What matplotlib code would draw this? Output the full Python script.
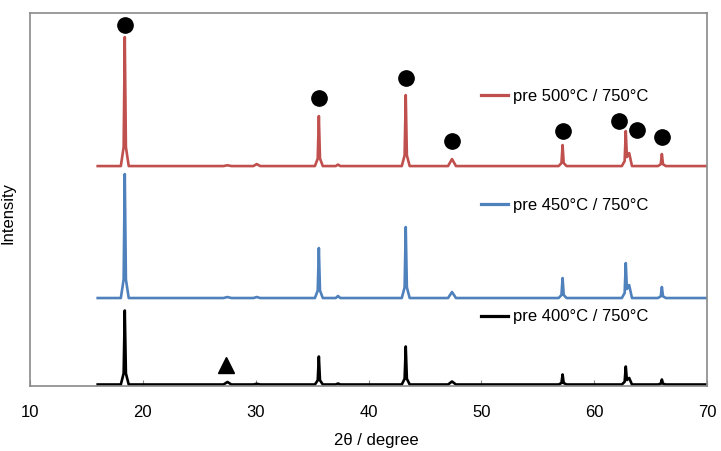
import matplotlib
matplotlib.use("Agg")
import matplotlib.pyplot as plt

plt.rcParams['font.family'] = ['Liberation Sans', 'DejaVu Sans']

# 2theta grid shared by the three patterns
two_theta = [16, 18.05, 18.3, 18.4, 18.5, 18.75,
             27.15, 27.5, 27.85,
             29.8, 30.1, 30.4,
             35.25, 35.5, 35.6, 35.7, 35.95,
             37.1, 37.3, 37.5,
             42.95, 43.2, 43.3, 43.4, 43.65,
             47.05, 47.4, 47.75,
             56.85, 57.1, 57.2, 57.3, 57.55,
             62.45, 62.7, 62.8, 62.9, 63.1, 63.35,
             65.65, 65.9, 66.0, 66.1, 66.35,
             70]

# intensities (already offset vertically)
pre400 = [1.5, 1.5, 12.6, 75.5, 12.6, 1.5,
          1.5, 4, 1.5,
          1.5, 2.2, 1.5,
          1.5, 5.7, 29.5, 5.7, 1.5,
          1.5, 2.5, 1.5,
          1.5, 7.2, 39.5, 7.2, 1.5,
          1.5, 4.5, 1.5,
          1.5, 3, 11.5, 3, 1.5,
          1.5, 4.2, 19.5, 6, 8, 1.5,
          1.5, 2.3, 6.5, 2.3, 1.5,
          1.5]
pre450 = [88, 88, 106.6, 212, 106.6, 88,
          88, 89, 88,
          88, 89, 88,
          88, 95.5, 138, 95.5, 88,
          88, 90, 88,
          88, 98.7, 159, 98.7, 88,
          88, 94, 88,
          88, 91, 108, 91, 88,
          88, 93, 123, 97, 101, 88,
          88, 89.7, 99, 89.7, 88,
          88]
pre500 = [220, 220, 239, 349, 239, 220,
          220, 220.8, 220,
          220, 222, 220,
          220, 227.5, 270, 227.5, 220,
          220, 221.5, 220,
          220, 230.7, 291, 230.7, 220,
          220, 227, 220,
          220, 223, 241, 223, 220,
          220, 225, 255, 229, 233, 220,
          220, 221.8, 232, 221.8, 220,
          220]

# phase markers
dot_x = [18.4, 35.6, 43.3, 47.4, 57.2, 62.2, 63.8, 66.0]
dot_y = [361, 288, 308, 245, 255, 265, 256, 249]
tri_x = [27.4]
tri_y = [21]

series = [(pre500, '#C0504D', 'pre 500°C / 750°C', 0.780),
          (pre450, '#4F81BD', 'pre 450°C / 750°C', 0.488),
          (pre400, '#000000', 'pre 400°C / 750°C', 0.188)]

fig = plt.figure(figsize=(7.21, 4.52), dpi=100)
ax = fig.add_axes([0.0416, 0.1438, 0.939, 0.825])

for y, col, lab, ly in series:
    ax.plot(two_theta, y, color=col, lw=1.9)
    # hand-placed legend entries
    ax.plot([0.666, 0.706], [ly, ly], color=col, lw=2.3, transform=ax.transAxes)
    ax.text(0.714, ly, lab, transform=ax.transAxes, va='center', ha='left', fontsize=12)

ax.plot(dot_x, dot_y, 'o', color='black', ms=11)
ax.plot(tri_x, tri_y, '^', color='black', ms=11)

ax.set_xlim(10, 70)
ax.set_ylim(0, 373)
ax.set_xticks(range(10, 71, 10))
ax.set_yticks([])
ax.tick_params(axis='x', direction='in', length=4, width=0.8, color='#888888',
               pad=13, labelsize=12)
for s in ax.spines.values():
    s.set_color('#8a8a8a')
    s.set_linewidth(1.2)

ax.set_xlabel('2θ / degree', fontsize=12)
ax.xaxis.set_label_coords(0.511, -0.123)
fig.text(0.0105, 1 - 213 / 452, 'Intensity', rotation=90, ha='center', va='center', fontsize=12)

fig.savefig('out.png', dpi=100)
